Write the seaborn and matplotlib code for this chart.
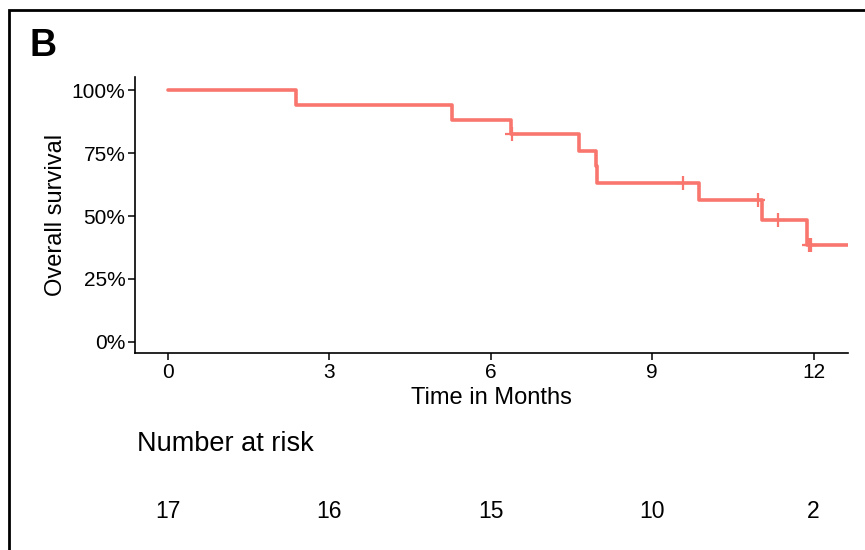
import matplotlib.pyplot as plt
import matplotlib.patches as patches
import numpy as np
import pandas as pd
import seaborn as sns

# Kaplan-Meier curve
step_time = [0, 2.38, 5.28, 6.37, 7.64, 7.95, 7.98, 9.87, 11.05, 11.88, 12.7]
step_surv = [1.0, 0.941, 0.882, 0.824, 0.760, 0.697, 0.633, 0.563, 0.483, 0.386, 0.386]

# censored observations
cens_time = [6.39, 9.57, 10.97, 11.34, 11.91, 11.95]
cens_surv = [0.824, 0.633, 0.563, 0.483, 0.386, 0.386]

# risk table
risk_time = [0, 3, 6, 9, 12]
risk_n = [17, 16, 15, 10, 2]

y_ticks = [0, 0.25, 0.5, 0.75, 1.0]
y_labels = ["0%", "25%", "50%", "75%", "100%"]

line_col = "#F8766D"


def make_plot():
    sns.set_theme(style="ticks")
    plt.rcParams['font.family'] = ['Liberation Sans', 'DejaVu Sans']
    plt.rcParams['text.color'] = 'black'
    plt.rcParams['axes.labelcolor'] = 'black'

    fig = plt.figure(figsize=(8.65, 5.5), dpi=100)
    ax = fig.add_axes([135 / 865, 1 - 353 / 550, 713 / 865, 276 / 550])

    curve = pd.DataFrame({"time": step_time, "surv": step_surv})
    cens = pd.DataFrame({"time": cens_time, "surv": cens_surv})

    sns.lineplot(x="time", y="surv", data=curve, ax=ax, color=line_col,
                 linewidth=2.6, drawstyle="steps-post", estimator=None)
    sns.scatterplot(x="time", y="surv", data=cens, ax=ax, marker="+",
                    color=line_col, s=100, linewidth=1.6, zorder=3)

    ax.set_xlim(-0.613, 12.64)
    ax.set_ylim(-0.044, 1.052)
    ax.set_xticks(risk_time)
    ax.set_yticks(y_ticks)
    ax.set_yticklabels(y_labels)
    ax.tick_params(labelsize=15, colors="black", length=5, width=1.1, pad=2)
    for s in ["top", "right"]:
        ax.spines[s].set_visible(False)
    for s in ["left", "bottom"]:
        ax.spines[s].set_color("black")
        ax.spines[s].set_linewidth(1.2)

    ax.set_xlabel("Time in Months", fontsize=17, labelpad=4)
    ax.set_ylabel("Overall survival", fontsize=17, labelpad=3)

    # risk table under the plot
    fig.text(137 / 865, 1 - 444 / 550, "Number at risk", fontsize=19.5, va="center", ha="left")
    for t, n in zip(risk_time, risk_n):
        x_fig = (135 + (t + 0.613) / (12.64 + 0.613) * 713) / 865
        fig.text(x_fig, 1 - 511 / 550, str(n), fontsize=16.5, ha="center", va="center")

    fig.text(43 / 865, 1 - 46 / 550, "B", fontsize=27, fontweight="bold",
             ha="center", va="center")

    border = patches.Rectangle((9 / 865, -0.05), 1.2, 1 - 10 / 550 + 0.05,
                               transform=fig.transFigure, fill=False,
                               edgecolor="black", linewidth=2.0)
    fig.patches.append(border)

    plt.savefig("out.png", dpi=100)


if __name__ == "__main__":
    make_plot()
